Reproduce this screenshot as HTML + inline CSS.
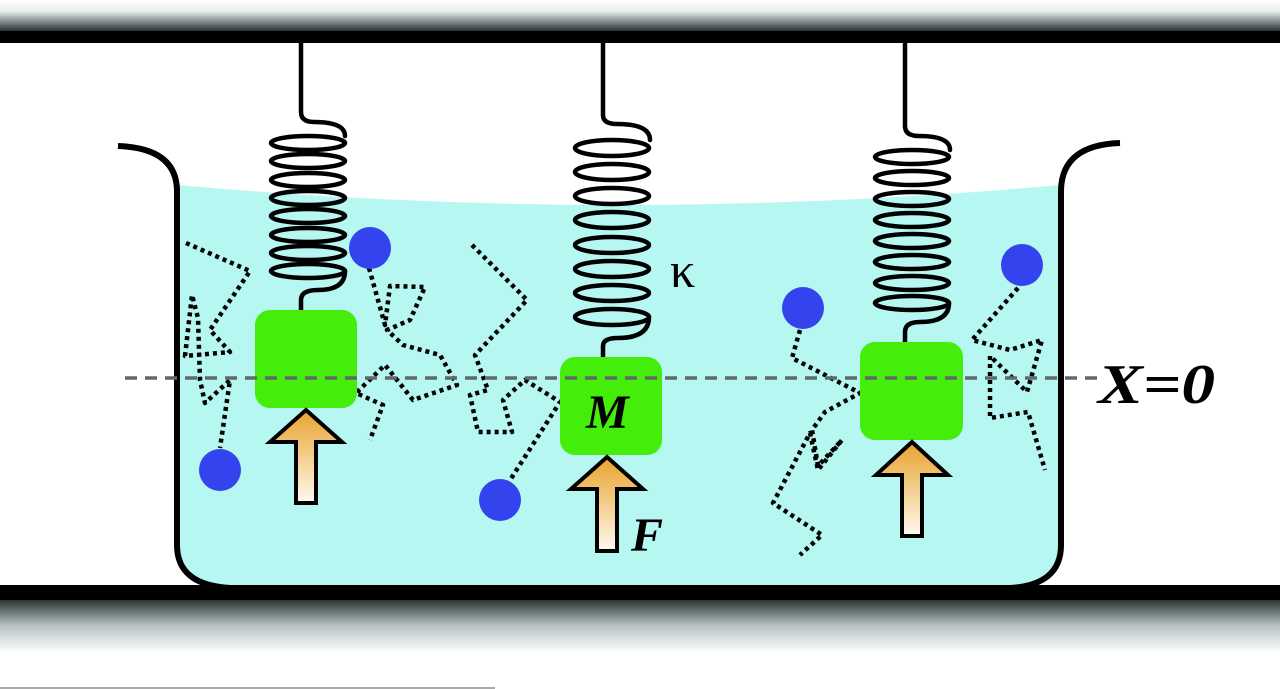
<!DOCTYPE html>
<html><head><meta charset="utf-8"><style>html,body{margin:0;padding:0;background:#fff}svg{display:block}</style></head>
<body>
<svg width="1280" height="689" viewBox="0 0 1280 689" xmlns="http://www.w3.org/2000/svg">
<defs>
<linearGradient id="tg" x1="0" y1="0" x2="0" y2="1"><stop offset="0" stop-color="#fff"/><stop offset="0.35" stop-color="#e8eeee"/><stop offset="1" stop-color="#1e2a2a"/></linearGradient>
<linearGradient id="bg" x1="0" y1="0" x2="0" y2="1"><stop offset="0" stop-color="#1e2a2a"/><stop offset="0.5" stop-color="#b8c2c2"/><stop offset="1" stop-color="#fff"/></linearGradient>
<linearGradient id="ag" x1="0" y1="0" x2="0" y2="1"><stop offset="0" stop-color="#e8a22c"/><stop offset="1" stop-color="#fffaf0"/></linearGradient>
</defs>
<rect x="0" y="0" width="1280" height="32" fill="url(#tg)"/>
<rect x="0" y="31" width="1280" height="12" fill="#000"/>
<rect x="0" y="598" width="1280" height="55" fill="url(#bg)"/>
<line x1="0" y1="688" x2="495" y2="688" stroke="#aaa" stroke-width="2"/>
<path d="M178,185 Q620,225 1060,185 L1060,545 Q1060,585 1020,585 L218,585 Q178,585 178,545 Z" fill="#b6f7f2"/>
<path d="M118,146 Q176,148 177,190 L177,545 Q177,585 230,588" fill="none" stroke="#000" stroke-width="6"/>
<path d="M1120,143 Q1062,145 1061,190 L1061,545 Q1061,585 1010,588" fill="none" stroke="#000" stroke-width="6"/>
<rect x="0" y="585" width="1280" height="15" fill="#000"/>
<g fill="none" stroke="#000" stroke-width="4.5" stroke-linecap="round">
<path d="M301,43 L301,112 Q301,122 314,122 Q345,122 345,136"/>
<g><ellipse cx="308" cy="143" rx="37" ry="7"/><ellipse cx="308" cy="161" rx="37" ry="7"/><ellipse cx="308" cy="180" rx="37" ry="7"/><ellipse cx="308" cy="198" rx="37" ry="7"/><ellipse cx="308" cy="216" rx="37" ry="7"/><ellipse cx="308" cy="235" rx="37" ry="7"/><ellipse cx="308" cy="253" rx="37" ry="7"/><ellipse cx="308" cy="271" rx="37" ry="7"/></g>
<path d="M345,271 Q345,290 318,290 Q301,290 301,300 L301,312"/>
<path d="M603,43 L603,115 Q603,124 617,124 Q650,124 650,140"/>
<g><ellipse cx="612" cy="148" rx="37" ry="8"/><ellipse cx="612" cy="172" rx="37" ry="8"/><ellipse cx="612" cy="196" rx="37" ry="8"/><ellipse cx="612" cy="220" rx="37" ry="8"/><ellipse cx="612" cy="245" rx="37" ry="8"/><ellipse cx="612" cy="269" rx="37" ry="8"/><ellipse cx="612" cy="293" rx="37" ry="8"/><ellipse cx="612" cy="317" rx="37" ry="8"/></g>
<path d="M649,317 Q649,338 618,338 Q603,338 603,346 L603,358"/>
<path d="M905,43 L905,126 Q905,136 919,136 Q950,136 950,150"/>
<g><ellipse cx="912" cy="157" rx="37" ry="7"/><ellipse cx="912" cy="178" rx="37" ry="7"/><ellipse cx="912" cy="199" rx="37" ry="7"/><ellipse cx="912" cy="220" rx="37" ry="7"/><ellipse cx="912" cy="241" rx="37" ry="7"/><ellipse cx="912" cy="262" rx="37" ry="7"/><ellipse cx="912" cy="283" rx="37" ry="7"/><ellipse cx="912" cy="303" rx="37" ry="7"/></g>
<path d="M949,303 Q949,322 920,322 Q905,322 905,332 L905,344"/>
</g>
<g fill="none" stroke="#000" stroke-width="4.5" stroke-dasharray="4,4" stroke-linejoin="round">
<polyline points="186,243 250,271 210,330 230,352 185,356 192,295 198,318 200,380 205,403 230,380 220,448"/>
<polyline points="369,268 385,325 390,286 425,287 410,320 387,330 403,345 440,355 457,385 413,400 385,365 356,393 383,405 370,440"/>
<polyline points="472,245 527,300 475,355 488,390 470,395 478,432 512,432 503,400 525,380 560,402 505,488"/>
<polyline points="800,330 792,358 860,393 825,412 812,430 818,466 842,440 818,470 810,433 773,503 822,535 800,555"/>
<polyline points="1018,288 972,340 1010,350 1042,340 1027,392 990,356 990,418 1028,412 1045,470"/>
</g>
<g fill="#3344ee"><circle cx="370" cy="248" r="21"/><circle cx="220" cy="470" r="21"/><circle cx="500" cy="500" r="21"/><circle cx="803" cy="308" r="21"/><circle cx="1022" cy="265" r="21"/></g>
<g fill="#44ee0a"><rect x="255" y="310" width="102" height="98" rx="15"/><rect x="560" y="357" width="102" height="98" rx="15"/><rect x="860" y="342" width="103" height="98" rx="15"/></g>
<line x1="125" y1="378" x2="1100" y2="378" stroke="#5f6a6a" stroke-width="3.5" stroke-dasharray="12,8"/>
<g fill="url(#ag)" stroke="#000" stroke-width="4" stroke-linejoin="miter">
<path d="M306,410 L342,442 L316,442 L316,503 L296,503 L296,442 L270,442 Z"/>
<path d="M607,457 L643,489 L617,489 L617,551 L597,551 L597,489 L571,489 Z"/>
<path d="M912,442 L948,475 L922,475 L922,536 L902,536 L902,475 L876,475 Z"/>
</g>
<g font-family="'Liberation Serif',serif" font-weight="bold" font-style="italic" fill="#000">
<text x="586" y="428" font-size="48">M</text>
<text x="631" y="551" font-size="48">F</text>
<text x="1098" y="403" font-size="56" textLength="117" lengthAdjust="spacingAndGlyphs">X=0</text>
</g>
<text x="670" y="287" font-family="'Liberation Serif',serif" font-size="50" fill="#000">κ</text>
</svg>
</body></html>
